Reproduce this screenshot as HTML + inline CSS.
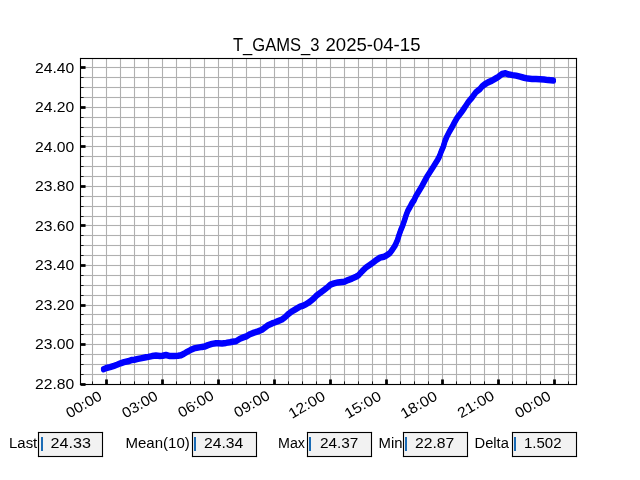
<!DOCTYPE html><html><head><meta charset="utf-8"><style>html,body{margin:0;padding:0;background:#fff;}svg{display:block;}text{font-family:"Liberation Sans",sans-serif;fill:#000;}svg{will-change:transform;}</style></head><body>
<svg width="640" height="480" viewBox="0 0 640 480">
<rect x="0" y="0" width="640" height="480" fill="#fff"/>
<g fill="#b0b0b0"><rect x="80" y="66.94" width="497" height="1.11"/><rect x="80" y="76.94" width="497" height="1.11"/><rect x="80" y="86.94" width="497" height="1.11"/><rect x="80" y="96.94" width="497" height="1.11"/><rect x="80" y="106.94" width="497" height="1.11"/><rect x="80" y="116.94" width="497" height="1.11"/><rect x="80" y="126.94" width="497" height="1.11"/><rect x="80" y="135.94" width="497" height="1.11"/><rect x="80" y="145.94" width="497" height="1.11"/><rect x="80" y="155.94" width="497" height="1.11"/><rect x="80" y="165.94" width="497" height="1.11"/><rect x="80" y="175.94" width="497" height="1.11"/><rect x="80" y="185.94" width="497" height="1.11"/><rect x="80" y="195.94" width="497" height="1.11"/><rect x="80" y="205.94" width="497" height="1.11"/><rect x="80" y="215.94" width="497" height="1.11"/><rect x="80" y="224.94" width="497" height="1.11"/><rect x="80" y="234.94" width="497" height="1.11"/><rect x="80" y="244.94" width="497" height="1.11"/><rect x="80" y="254.94" width="497" height="1.11"/><rect x="80" y="264.94" width="497" height="1.11"/><rect x="80" y="274.94" width="497" height="1.11"/><rect x="80" y="284.94" width="497" height="1.11"/><rect x="80" y="294.94" width="497" height="1.11"/><rect x="80" y="304.94" width="497" height="1.11"/><rect x="80" y="313.94" width="497" height="1.11"/><rect x="80" y="323.94" width="497" height="1.11"/><rect x="80" y="333.94" width="497" height="1.11"/><rect x="80" y="343.94" width="497" height="1.11"/><rect x="80" y="353.94" width="497" height="1.11"/><rect x="80" y="363.94" width="497" height="1.11"/><rect x="80" y="373.94" width="497" height="1.11"/><rect x="91.94" y="58" width="1.11" height="327"/><rect x="105.94" y="58" width="1.11" height="327"/><rect x="119.94" y="58" width="1.11" height="327"/><rect x="133.94" y="58" width="1.11" height="327"/><rect x="147.94" y="58" width="1.11" height="327"/><rect x="161.94" y="58" width="1.11" height="327"/><rect x="175.94" y="58" width="1.11" height="327"/><rect x="189.94" y="58" width="1.11" height="327"/><rect x="203.94" y="58" width="1.11" height="327"/><rect x="217.94" y="58" width="1.11" height="327"/><rect x="231.94" y="58" width="1.11" height="327"/><rect x="245.94" y="58" width="1.11" height="327"/><rect x="259.94" y="58" width="1.11" height="327"/><rect x="273.94" y="58" width="1.11" height="327"/><rect x="287.94" y="58" width="1.11" height="327"/><rect x="301.94" y="58" width="1.11" height="327"/><rect x="315.94" y="58" width="1.11" height="327"/><rect x="329.94" y="58" width="1.11" height="327"/><rect x="343.94" y="58" width="1.11" height="327"/><rect x="357.94" y="58" width="1.11" height="327"/><rect x="371.94" y="58" width="1.11" height="327"/><rect x="385.94" y="58" width="1.11" height="327"/><rect x="399.94" y="58" width="1.11" height="327"/><rect x="413.94" y="58" width="1.11" height="327"/><rect x="427.94" y="58" width="1.11" height="327"/><rect x="441.94" y="58" width="1.11" height="327"/><rect x="455.94" y="58" width="1.11" height="327"/><rect x="469.94" y="58" width="1.11" height="327"/><rect x="483.94" y="58" width="1.11" height="327"/><rect x="497.94" y="58" width="1.11" height="327"/><rect x="511.94" y="58" width="1.11" height="327"/><rect x="525.95" y="58" width="1.11" height="327"/><rect x="539.95" y="58" width="1.11" height="327"/><rect x="553.95" y="58" width="1.11" height="327"/><rect x="567.95" y="58" width="1.11" height="327"/></g>
<g stroke="#0000ff" stroke-width="5.1" fill="none" stroke-linecap="round" stroke-linejoin="round"><path d="M103.5 369.2 L106.4 368 L110 367.1 L114 365.8 L117 364.75 L120.5 363.3 L124 362.1 L128 361.3 L132 359.9 L134.4 359.7 L138 358.9 L142 358.1 L146 357.3 L148.4 356.9 L152 356.1 L156 355.6 L160 355.9 L162.5 355.8 L166 355 L170 356.1 L174 355.9 L178 355.75 L181 355.3 L184 353.75 L187 351.9 L190.4 350.1 L194 348.4 L198 347.6 L202 346.9 L204.5 346.6 L208 345.1 L212 343.9 L216 343.25 L218.4 343.25 L222 343.4 L226 342.9 L230 342.3 L232.4 341.8 L236 341.25 L240 338.75 L244 337.2 L246.4 336.4 L250 334.2 L254 332.6 L258 331.4 L262 329.8 L268 325.3 L272 323.4 L274.6 322.5 L278 321.1 L282 319.5 L285 317.3 L288.5 313.9 L292 311.3 L296 309 L300 306.7 L302.5 305.9 L306 304.3 L310 301.6 L314 298.25 L316.6 295.5 L320 292.9 L324 290 L328 286.9 L330.5 284.6 L334 283.4 L338 282.4 L342 282 L344.4 281.8 L348 280.1 L352 278.6 L356 276.7 L358.4 275.4 L362 271.4 L366 267.5 L370 264.7 L372.5 262.9 L376 260.3 L380 257.6 L384 256.7 L386.4 255.6 L390 252.9 L392.5 249.5 L395 245.7 L397.5 240 L398.9 235.5 L400.8 230 L402.7 225.6 L404.6 220 L405.8 216.2 L407.7 211 L410.4 206.2 L412.1 203 L414.2 200 L415.7 196.5 L421.7 186.5 L427.1 176.5 L433.5 166.5 L437.5 160 L439.3 156.75 L441.4 151 L443.3 146.75 L445 141 L446.8 136.75 L449.2 132 L451.8 127.6 L454.2 123 L457 118 L461.6 112 L464.7 107.5 L468.25 102 L472.2 97.3 L476 92.1 L480 89 L482 86.5 L484.5 84.5 L488 82.4 L492 80.6 L496 78.25 L498.4 76.8 L502 74 L505.5 73.25 L508 74.3 L512.5 75.1 L516 75.6 L520 76.7 L524 77.75 L528 78.6 L532 78.9 L536 78.9 L540 79.2 L544 79.5 L548 80.1 L553.5 80.5" transform="translate(0 -0.7)"/><path d="M103.5 369.2 L106.4 368 L110 367.1 L114 365.8 L117 364.75 L120.5 363.3 L124 362.1 L128 361.3 L132 359.9 L134.4 359.7 L138 358.9 L142 358.1 L146 357.3 L148.4 356.9 L152 356.1 L156 355.6 L160 355.9 L162.5 355.8 L166 355 L170 356.1 L174 355.9 L178 355.75 L181 355.3 L184 353.75 L187 351.9 L190.4 350.1 L194 348.4 L198 347.6 L202 346.9 L204.5 346.6 L208 345.1 L212 343.9 L216 343.25 L218.4 343.25 L222 343.4 L226 342.9 L230 342.3 L232.4 341.8 L236 341.25 L240 338.75 L244 337.2 L246.4 336.4 L250 334.2 L254 332.6 L258 331.4 L262 329.8 L268 325.3 L272 323.4 L274.6 322.5 L278 321.1 L282 319.5 L285 317.3 L288.5 313.9 L292 311.3 L296 309 L300 306.7 L302.5 305.9 L306 304.3 L310 301.6 L314 298.25 L316.6 295.5 L320 292.9 L324 290 L328 286.9 L330.5 284.6 L334 283.4 L338 282.4 L342 282 L344.4 281.8 L348 280.1 L352 278.6 L356 276.7 L358.4 275.4 L362 271.4 L366 267.5 L370 264.7 L372.5 262.9 L376 260.3 L380 257.6 L384 256.7 L386.4 255.6 L390 252.9 L392.5 249.5 L395 245.7 L397.5 240 L398.9 235.5 L400.8 230 L402.7 225.6 L404.6 220 L405.8 216.2 L407.7 211 L410.4 206.2 L412.1 203 L414.2 200 L415.7 196.5 L421.7 186.5 L427.1 176.5 L433.5 166.5 L437.5 160 L439.3 156.75 L441.4 151 L443.3 146.75 L445 141 L446.8 136.75 L449.2 132 L451.8 127.6 L454.2 123 L457 118 L461.6 112 L464.7 107.5 L468.25 102 L472.2 97.3 L476 92.1 L480 89 L482 86.5 L484.5 84.5 L488 82.4 L492 80.6 L496 78.25 L498.4 76.8 L502 74 L505.5 73.25 L508 74.3 L512.5 75.1 L516 75.6 L520 76.7 L524 77.75 L528 78.6 L532 78.9 L536 78.9 L540 79.2 L544 79.5 L548 80.1 L553.5 80.5" transform="translate(0 0.7)"/></g>
<path d="M80.6 67.5 H85.55" stroke="#000" stroke-width="2.78"/>
<path d="M80.6 77.5 H83.6" stroke="#000" stroke-width="0.83"/>
<path d="M80.6 87.5 H83.6" stroke="#000" stroke-width="0.83"/>
<path d="M80.6 97.5 H83.6" stroke="#000" stroke-width="0.83"/>
<path d="M80.6 107.5 H85.55" stroke="#000" stroke-width="2.78"/>
<path d="M80.6 117.5 H83.6" stroke="#000" stroke-width="0.83"/>
<path d="M80.6 127.5 H83.6" stroke="#000" stroke-width="0.83"/>
<path d="M80.6 136.5 H83.6" stroke="#000" stroke-width="0.83"/>
<path d="M80.6 146.5 H85.55" stroke="#000" stroke-width="2.78"/>
<path d="M80.6 156.5 H83.6" stroke="#000" stroke-width="0.83"/>
<path d="M80.6 166.5 H83.6" stroke="#000" stroke-width="0.83"/>
<path d="M80.6 176.5 H83.6" stroke="#000" stroke-width="0.83"/>
<path d="M80.6 186.5 H85.55" stroke="#000" stroke-width="2.78"/>
<path d="M80.6 196.5 H83.6" stroke="#000" stroke-width="0.83"/>
<path d="M80.6 206.5 H83.6" stroke="#000" stroke-width="0.83"/>
<path d="M80.6 216.5 H83.6" stroke="#000" stroke-width="0.83"/>
<path d="M80.6 225.5 H85.55" stroke="#000" stroke-width="2.78"/>
<path d="M80.6 235.5 H83.6" stroke="#000" stroke-width="0.83"/>
<path d="M80.6 245.5 H83.6" stroke="#000" stroke-width="0.83"/>
<path d="M80.6 255.5 H83.6" stroke="#000" stroke-width="0.83"/>
<path d="M80.6 265.5 H85.55" stroke="#000" stroke-width="2.78"/>
<path d="M80.6 275.5 H83.6" stroke="#000" stroke-width="0.83"/>
<path d="M80.6 285.5 H83.6" stroke="#000" stroke-width="0.83"/>
<path d="M80.6 295.5 H83.6" stroke="#000" stroke-width="0.83"/>
<path d="M80.6 305.5 H85.55" stroke="#000" stroke-width="2.78"/>
<path d="M80.6 314.5 H83.6" stroke="#000" stroke-width="0.83"/>
<path d="M80.6 324.5 H83.6" stroke="#000" stroke-width="0.83"/>
<path d="M80.6 334.5 H83.6" stroke="#000" stroke-width="0.83"/>
<path d="M80.6 344.5 H85.55" stroke="#000" stroke-width="2.78"/>
<path d="M80.6 354.5 H83.6" stroke="#000" stroke-width="0.83"/>
<path d="M80.6 364.5 H83.6" stroke="#000" stroke-width="0.83"/>
<path d="M80.6 374.5 H83.6" stroke="#000" stroke-width="0.83"/>
<path d="M80.6 384.5 H85.55" stroke="#000" stroke-width="2.78"/>
<path d="M92.5 384.4 V381.4" stroke="#000" stroke-width="0.83"/>
<path d="M106.5 384.4 V379.45" stroke="#000" stroke-width="2.78"/>
<path d="M120.5 384.4 V381.4" stroke="#000" stroke-width="0.83"/>
<path d="M134.5 384.4 V381.4" stroke="#000" stroke-width="0.83"/>
<path d="M148.5 384.4 V381.4" stroke="#000" stroke-width="0.83"/>
<path d="M162.5 384.4 V379.45" stroke="#000" stroke-width="2.78"/>
<path d="M176.5 384.4 V381.4" stroke="#000" stroke-width="0.83"/>
<path d="M190.5 384.4 V381.4" stroke="#000" stroke-width="0.83"/>
<path d="M204.5 384.4 V381.4" stroke="#000" stroke-width="0.83"/>
<path d="M218.5 384.4 V379.45" stroke="#000" stroke-width="2.78"/>
<path d="M232.5 384.4 V381.4" stroke="#000" stroke-width="0.83"/>
<path d="M246.5 384.4 V381.4" stroke="#000" stroke-width="0.83"/>
<path d="M260.5 384.4 V381.4" stroke="#000" stroke-width="0.83"/>
<path d="M274.5 384.4 V379.45" stroke="#000" stroke-width="2.78"/>
<path d="M288.5 384.4 V381.4" stroke="#000" stroke-width="0.83"/>
<path d="M302.5 384.4 V381.4" stroke="#000" stroke-width="0.83"/>
<path d="M316.5 384.4 V381.4" stroke="#000" stroke-width="0.83"/>
<path d="M330.5 384.4 V379.45" stroke="#000" stroke-width="2.78"/>
<path d="M344.5 384.4 V381.4" stroke="#000" stroke-width="0.83"/>
<path d="M358.5 384.4 V381.4" stroke="#000" stroke-width="0.83"/>
<path d="M372.5 384.4 V381.4" stroke="#000" stroke-width="0.83"/>
<path d="M386.5 384.4 V379.45" stroke="#000" stroke-width="2.78"/>
<path d="M400.5 384.4 V381.4" stroke="#000" stroke-width="0.83"/>
<path d="M414.5 384.4 V381.4" stroke="#000" stroke-width="0.83"/>
<path d="M428.5 384.4 V381.4" stroke="#000" stroke-width="0.83"/>
<path d="M442.5 384.4 V379.45" stroke="#000" stroke-width="2.78"/>
<path d="M456.5 384.4 V381.4" stroke="#000" stroke-width="0.83"/>
<path d="M470.5 384.4 V381.4" stroke="#000" stroke-width="0.83"/>
<path d="M484.5 384.4 V381.4" stroke="#000" stroke-width="0.83"/>
<path d="M498.5 384.4 V379.45" stroke="#000" stroke-width="2.78"/>
<path d="M512.5 384.4 V381.4" stroke="#000" stroke-width="0.83"/>
<path d="M526.5 384.4 V381.4" stroke="#000" stroke-width="0.83"/>
<path d="M540.5 384.4 V381.4" stroke="#000" stroke-width="0.83"/>
<path d="M554.5 384.4 V379.45" stroke="#000" stroke-width="2.78"/>
<path d="M568.5 384.4 V381.4" stroke="#000" stroke-width="0.83"/>
<g fill="#000"><rect x="79.945" y="57.945" width="1.11" height="327.11"/><rect x="575.945" y="57.945" width="1.11" height="327.11"/><rect x="79.945" y="57.945" width="497.11" height="1.11"/><rect x="79.945" y="383.945" width="497.11" height="1.11"/></g>
<rect x="38" y="432" width="65" height="25" fill="#f2f2f2"/>
<g fill="#000"><rect x="37.95" y="431.945" width="65.11" height="1.11"/><rect x="37.95" y="455.945" width="65.11" height="1.11"/><rect x="37.95" y="431.945" width="1.11" height="25.11"/><rect x="101.94" y="431.945" width="1.11" height="25.11"/></g>
<rect x="41" y="437" width="2" height="14" fill="#1a6bb5"/>
<rect x="192" y="432" width="65" height="25" fill="#f2f2f2"/>
<g fill="#000"><rect x="191.94" y="431.945" width="65.11" height="1.11"/><rect x="191.94" y="455.945" width="65.11" height="1.11"/><rect x="191.94" y="431.945" width="1.11" height="25.11"/><rect x="255.94" y="431.945" width="1.11" height="25.11"/></g>
<rect x="194" y="437" width="2" height="14" fill="#1a6bb5"/>
<rect x="307" y="432" width="65" height="25" fill="#f2f2f2"/>
<g fill="#000"><rect x="306.94" y="431.945" width="65.11" height="1.11"/><rect x="306.94" y="455.945" width="65.11" height="1.11"/><rect x="306.94" y="431.945" width="1.11" height="25.11"/><rect x="370.94" y="431.945" width="1.11" height="25.11"/></g>
<rect x="309" y="437" width="2" height="14" fill="#1a6bb5"/>
<rect x="403" y="432" width="65" height="25" fill="#f2f2f2"/>
<g fill="#000"><rect x="402.94" y="431.945" width="65.11" height="1.11"/><rect x="402.94" y="455.945" width="65.11" height="1.11"/><rect x="402.94" y="431.945" width="1.11" height="25.11"/><rect x="466.94" y="431.945" width="1.11" height="25.11"/></g>
<rect x="405" y="437" width="2" height="14" fill="#1a6bb5"/>
<rect x="512" y="432" width="65" height="25" fill="#f2f2f2"/>
<g fill="#000"><rect x="511.94" y="431.945" width="65.11" height="1.11"/><rect x="511.94" y="455.945" width="65.11" height="1.11"/><rect x="511.94" y="431.945" width="1.11" height="25.11"/><rect x="575.95" y="431.945" width="1.11" height="25.11"/></g>
<rect x="514" y="437" width="2" height="14" fill="#1a6bb5"/>
<text x="0" y="0" font-size="14.5" transform="translate(35 388.86) scale(1.0848 1)">22.80</text>
<text x="0" y="0" font-size="14.5" transform="translate(35 348.86) scale(1.0848 1)">23.00</text>
<text x="0" y="0" font-size="14.5" transform="translate(35 309.86) scale(1.0848 1)">23.20</text>
<text x="0" y="0" font-size="14.5" transform="translate(35 269.86) scale(1.0848 1)">23.40</text>
<text x="0" y="0" font-size="14.5" transform="translate(35 230.86) scale(1.0848 1)">23.60</text>
<text x="0" y="0" font-size="14.5" transform="translate(35 190.86) scale(1.0848 1)">23.80</text>
<text x="0" y="0" font-size="14.5" transform="translate(35 151.86) scale(1.0848 1)">24.00</text>
<text x="0" y="0" font-size="14.5" transform="translate(35 111.86) scale(1.0848 1)">24.20</text>
<text x="0" y="0" font-size="14.5" transform="translate(35 72.86) scale(1.0848 1)">24.40</text>
<text x="0" y="0" font-size="14.5" transform="translate(103 399) rotate(-30) scale(1.0681 1)" text-anchor="end">00:00</text>
<text x="0" y="0" font-size="14.5" transform="translate(159 399) rotate(-30) scale(1.0681 1)" text-anchor="end">03:00</text>
<text x="0" y="0" font-size="14.5" transform="translate(215 398.5) rotate(-30) scale(1.0681 1)" text-anchor="end">06:00</text>
<text x="0" y="0" font-size="14.5" transform="translate(271 398.5) rotate(-30) scale(1.0681 1)" text-anchor="end">09:00</text>
<text x="0" y="0" font-size="14.5" transform="translate(326.5 399) rotate(-30) scale(1.1013 1)" text-anchor="end">12:00</text>
<text x="0" y="0" font-size="14.5" transform="translate(382.5 399) rotate(-30) scale(1.1013 1)" text-anchor="end">15:00</text>
<text x="0" y="0" font-size="14.5" transform="translate(438.5 399) rotate(-30) scale(1.1013 1)" text-anchor="end">18:00</text>
<text x="0" y="0" font-size="14.5" transform="translate(495.5 398.5) rotate(-30) scale(1.1003 1)" text-anchor="end">21:00</text>
<text x="0" y="0" font-size="14.5" transform="translate(552 399) rotate(-30) scale(1.0681 1)" text-anchor="end">00:00</text>
<text x="0" y="0" font-size="17.6" transform="translate(233 51.12) scale(0.9413 1)">T_GAMS_3</text>
<text x="0" y="0" font-size="17.6" transform="translate(325.5 50.5) scale(1.0559 1)">2025-04-15</text>
<text x="0" y="0" font-size="14.5" transform="translate(9 447.86) scale(1.0317 1)">Last</text>
<text x="0" y="0" font-size="14.5" transform="translate(50.5 447.86) scale(1.1156 1)">24.33</text>
<text x="0" y="0" font-size="14.5" transform="translate(125.5 448.1) scale(1.0360 1)">Mean(10)</text>
<text x="0" y="0" font-size="14.5" transform="translate(204 447.86) scale(1.0848 1)">24.34</text>
<text x="0" y="0" font-size="14.5" transform="translate(278 447.86) scale(0.9846 1)">Max</text>
<text x="0" y="0" font-size="14.5" transform="translate(320 447.86) scale(1.0586 1)">24.37</text>
<text x="0" y="0" font-size="14.5" transform="translate(378.5 448) scale(1.0282 1)">Min</text>
<text x="0" y="0" font-size="14.5" transform="translate(415 447.86) scale(1.0856 1)">22.87</text>
<text x="0" y="0" font-size="14.5" transform="translate(474.5 447.86) scale(1.0174 1)">Delta</text>
<text x="0" y="0" font-size="14.5" transform="translate(524 447.86) scale(1.0345 1)">1.502</text>
</svg></body></html>
